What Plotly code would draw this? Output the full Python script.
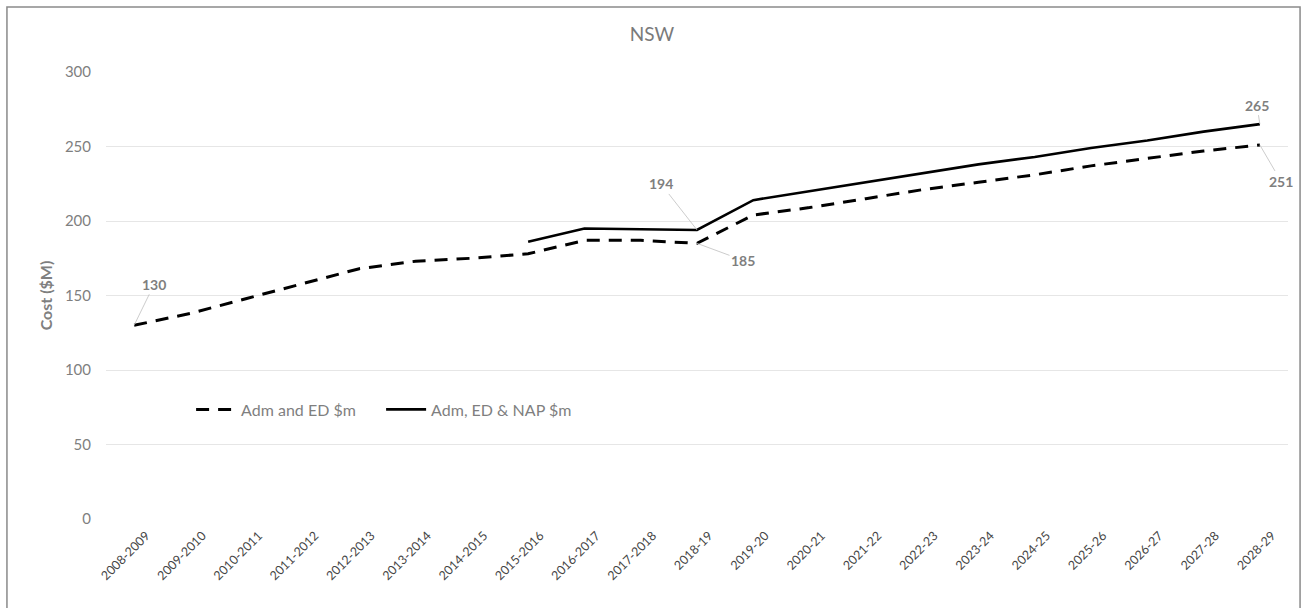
import plotly.graph_objects as go

years = ["2008-2009", "2009-2010", "2010-2011", "2011-2012", "2012-2013",
         "2013-2014", "2014-2015", "2015-2016", "2016-2017", "2017-2018",
         "2018-19", "2019-20", "2020-21", "2021-22", "2022-23", "2023-24",
         "2024-25", "2025-26", "2026-27", "2027-28", "2028-29"]

adm_ed = [130, 138, 148, 158, 168, 173, 175, 178, 187, 187,
          185, 204, 209, 215, 221, 226, 231, 237, 242, 247, 251]

adm_ed_nap = [None, None, None, None, None, None, None, 186, 195, 194.5,
              194, 214, 220, 226, 232, 238, 243, 249, 254, 260, 265]

y_ticks = [0, 50, 100, 150, 200, 250, 300]

FONT = "Lato, Open Sans, sans-serif"
GREY = "#7f7f7f"

fig = go.Figure()
fig.add_trace(go.Scatter(
    x=years, y=adm_ed, mode="lines", name="Adm and ED $m",
    line=dict(color="black", width=3, dash="13px,9px"),
))
fig.add_trace(go.Scatter(
    x=years, y=adm_ed_nap, mode="lines", name="Adm, ED & NAP $m",
    line=dict(color="black", width=2.6),
))

# value callouts with thin leader lines
callouts = [
    (years[0], adm_ed[0], 20, -41),
    (years[10], adm_ed_nap[10], -36, -46),
    (years[10], adm_ed[10], 46, 17),
    (years[20], adm_ed_nap[20], -3, -19),
    (years[20], adm_ed[20], 21, 36),
]
for xv, yv, ax, ay in callouts:
    fig.add_annotation(
        x=xv, y=yv, text=f"<b>{yv:g}</b>", showarrow=True, arrowhead=0,
        arrowwidth=0.8, arrowcolor="#bfbfbf", ax=ax, ay=ay, standoff=0,
        font=dict(family=FONT, size=14, color=GREY),
    )

# outer chart border
fig.add_shape(type="rect", xref="paper", yref="paper",
              x0=-0.0838, x1=1.0102, y0=-0.25, y1=1.1454,
              line=dict(color="#8a8a8a", width=1.5), fillcolor="rgba(0,0,0,0)",
              layer="below")

fig.update_layout(
    width=1304, height=608,
    margin=dict(l=106, r=16, t=72, b=89),
    paper_bgcolor="white", plot_bgcolor="white",
    title=dict(text="NSW", x=0.5, xanchor="center", y=0.943, yanchor="middle",
               font=dict(family=FONT, size=19, color="#7a7a7a")),
    font=dict(family=FONT, color=GREY),
    legend=dict(orientation="h", x=0.072, y=0.245, xanchor="left", yanchor="middle",
                font=dict(family=FONT, size=16, color=GREY),
                bgcolor="rgba(0,0,0,0)", itemwidth=40, tracegroupgap=0,
                entrywidth=135, entrywidthmode="pixels"),
    xaxis=dict(type="category", range=[-0.5, 20.5], tickangle=-45,
               showgrid=False, showline=False, ticks="",
               ticklabelshift=12, ticklabelstandoff=6,
               tickfont=dict(family=FONT, size=12.5, color="#454545")),
    yaxis=dict(range=[0, 300], tickvals=y_ticks, showgrid=True,
               gridcolor="#e6e6e6", gridwidth=1, zeroline=False,
               showline=False, ticks="", ticklabelstandoff=14,
               tickfont=dict(family=FONT, size=15, color=GREY),
               title=dict(text="<b>Cost ($M)</b>", standoff=8,
                          font=dict(family=FONT, size=16, color=GREY))),
)

fig.write_html("out.html")
